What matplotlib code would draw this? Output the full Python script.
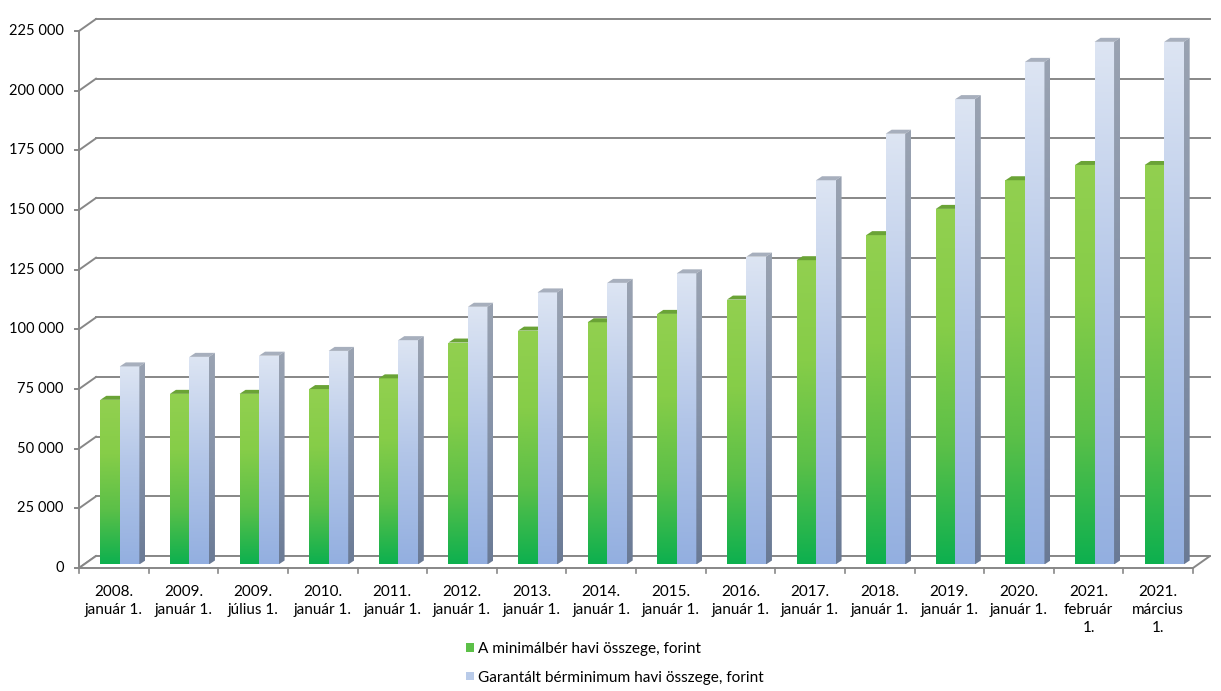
import numpy as np
import matplotlib.pyplot as plt
from matplotlib.colors import LinearSegmentedColormap
from matplotlib.patches import Polygon, Patch
from matplotlib.transforms import ScaledTranslation

# adatok
kategoriak = ['2008.\njanuár 1.', '2009.\njanuár 1.', '2009.\njúlius 1.', '2010.\njanuár 1.',
              '2011.\njanuár 1.', '2012.\njanuár 1.', '2013.\njanuár 1.', '2014.\njanuár 1.',
              '2015.\njanuár 1.', '2016.\njanuár 1.', '2017.\njanuár 1.', '2018.\njanuár 1.',
              '2019.\njanuár 1.', '2020.\njanuár 1.', '2021.\nfebruár\n1.', '2021.\nmárcius\n1.']
minimalber = [69000, 71500, 71500, 73500, 78000, 93000, 98000, 101500,
              105000, 111000, 127500, 138000, 149000, 161000, 167400, 167400]
garantalt = [83000, 87000, 87500, 89500, 94000, 108000, 114000, 118000,
             122000, 129000, 161000, 180500, 195000, 210600, 219000, 219000]
y_ticks = [0, 25000, 50000, 75000, 100000, 125000, 150000, 175000, 200000, 225000]
legend_labels = ['A minimálbér havi összege, forint', 'Garantált bérminimum havi összege, forint']

plt.rcParams['font.family'] = ['Lato', 'DejaVu Sans']
GRID = '#878787'

fig = plt.figure(figsize=(12.21, 6.91), dpi=100)
ax = fig.add_axes([79 / 1221, 1 - 568 / 691, 1114 / 1221, 537 / 691])
n = len(kategoriak)
ax.set_xlim(-0.5, n - 0.5)
ax.set_ylim(0, 225000)
ax.axis('off')

def px(dx, dy):
    # pixel eltolás -> adat egység
    p0 = ax.transData.transform((0, 0))
    q = ax.transData.inverted().transform(p0 + np.array([dx, dy]))
    return q[0], q[1]

bx, by = px(17, 12)      # hátsó fal eltolása
dx, dy = px(6, 4)        # oszlopok mélysége

# rács: bal oldalfal átlók + hátsó vonalak
for v in y_ticks:
    ax.plot([-0.5, -0.5 + bx], [v, v + by], color=GRID, lw=1.4, clip_on=False, zorder=1)
    ax.plot([-0.5 + bx, n - 0.5 + bx], [v + by, v + by], color=GRID, lw=1.4, clip_on=False, zorder=1)
    ax.plot([-0.5, -0.5 - 0.06], [v, v], color=GRID, lw=1.4, clip_on=False)
    ax.text(-0.5 - 0.22, v, f'{v:,}'.replace(',', ' '), ha='right', va='center', fontsize=10.5)

# padló
floor = Polygon([(-0.5, 0), (n - 0.5, 0), (n - 0.5 + bx, by), (-0.5 + bx, by)],
                closed=True, facecolor='white', edgecolor=GRID, lw=1.4, clip_on=False, zorder=1)
ax.add_patch(floor)
ax.plot([-0.5, -0.5], [0, 225000], color=GRID, lw=1.4, clip_on=False, zorder=2)
for i in range(n + 1):
    ax.plot([i - 0.5, i - 0.5], [0, -px(0, 5)[1]], color=GRID, lw=1.2, clip_on=False)
for i, lab in enumerate(kategoriak):
    ax.text(i, -px(0, 17)[1], lab, ha='center', va='top', fontsize=11, linespacing=1.36)

# oszlopok
shift = ScaledTranslation(3.5 / 100, 3.5 / 100, fig.dpi_scale_trans)
tr = ax.transData + shift
w = 19.5 / 69.6
balra = 17 / 69.6

cm_green = LinearSegmentedColormap.from_list('g', ['#0db04f', '#5cc048', '#86cd48', '#92d050'])
cm_blue = LinearSegmentedColormap.from_list('b', ['#93afe0', '#b3c6e8', '#dde5f3'])
cm_side = LinearSegmentedColormap.from_list('s', ['#6a7a95', '#8592a8', '#9aa3b2'])
grad = np.linspace(0, 1, 256).reshape(-1, 1)

def oszlop(x0, h, cmap, top_col, side=True):
    rect = ax.bar(x0, h, w, align='edge', color='none', transform=tr, zorder=3)[0]
    im = ax.imshow(grad, cmap=cmap, extent=[x0, x0 + w, 0, h], origin='lower',
                   aspect='auto', transform=tr, zorder=3, interpolation='bicubic')
    im.set_clip_path(rect)
    top = Polygon([(x0, h), (x0 + w, h), (x0 + w + dx, h + dy), (x0 + dx, h + dy)],
                  closed=True, facecolor=top_col, edgecolor='none', transform=tr, zorder=3)
    ax.add_patch(top)
    if side:
        sp = Polygon([(x0 + w, 0), (x0 + w + dx, dy), (x0 + w + dx, h + dy), (x0 + w, h)],
                     closed=True, facecolor='none', edgecolor='none', transform=tr, zorder=3)
        ax.add_patch(sp)
        im2 = ax.imshow(grad, cmap=cm_side, extent=[x0 + w, x0 + w + dx, 0, h + dy],
                        origin='lower', aspect='auto', transform=tr, zorder=3)
        im2.set_clip_path(sp)

for i in range(n):
    oszlop(i - balra, minimalber[i], cm_green, '#6aa336', side=False)
    oszlop(i - balra + w, garantalt[i], cm_blue, '#a7afbd')

ax.set_xlim(-0.5, n - 0.5)
ax.set_ylim(0, 225000)

# jelmagyarázat
handles = [Patch(facecolor='#5cc048'), Patch(facecolor='#b9cbe9')]
fig.legend(handles, legend_labels, loc='upper left', bbox_to_anchor=(452 / 1221, 1 - 628 / 691),
           frameon=False, fontsize=11.1, handlelength=0.5, handleheight=0.5,
           handletextpad=0.3, labelspacing=0.95)

fig.savefig('out.png', dpi=100)
